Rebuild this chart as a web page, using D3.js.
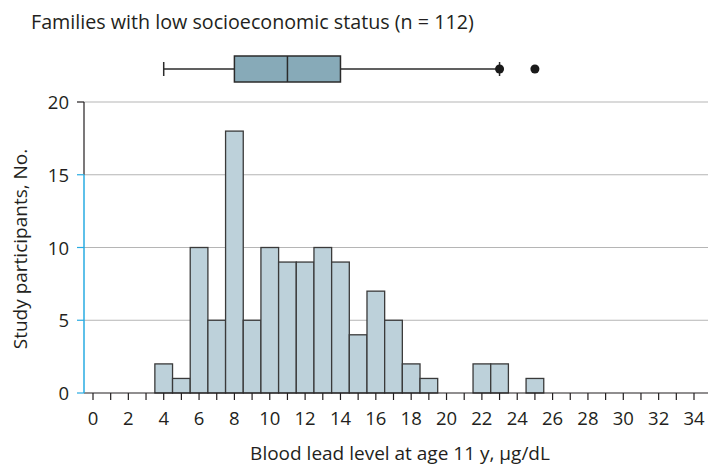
<!DOCTYPE html>
<html><head><meta charset="utf-8">
<script src="https://cdn.jsdelivr.net/npm/d3@7"></script>
<style>body{margin:0;background:#fff}svg{display:block}text{font-family:"Open Sans",sans-serif;fill:#231f20}</style>
</head><body>
<script>
const title = "Families with low socioeconomic status (n = 112)";
const xLabel = "Blood lead level at age 11 y, μg/dL";
const yLabel = "Study participants, No.";
const leadLevels = [4,5,6,7,8,9,10,11,12,13,14,15,16,17,18,19,22,23,25];
const counts     = [2,1,10,5,18,5,10,9,9,10,9,4,7,5,2,1,2,2,1];
const xTicks = d3.range(0, 35, 1);
const xTickLabels = d3.range(0, 35, 2);
const yTicks = [0,5,10,15,20];
const boxStats = {min:4, q1:8, median:11, q3:14, max:23};
const outliers = [25];

const W = 711, H = 466;
const svg = d3.select("body").append("svg").attr("width", W).attr("height", H);
const x = d3.scaleLinear().domain([0, 34]).range([93, 694]);
const y = d3.scaleLinear().domain([0, 20]).range([393, 102]);
const axisLeft = 84, axisRight = 708;

// gridlines
svg.append("g").selectAll("line").data(yTicks.filter(d => d > 0)).join("line")
  .attr("x1", axisLeft).attr("x2", axisRight)
  .attr("y1", d => y(d)).attr("y2", d => y(d))
  .attr("stroke", "#b5b5b5").attr("stroke-width", 1);

// bars
const bw = x(1) - x(0);
svg.append("g").selectAll("rect").data(leadLevels).join("rect")
  .attr("x", d => x(d - 0.5)).attr("width", bw)
  .attr("y", (d, i) => y(counts[i])).attr("height", (d, i) => y(0) - y(counts[i]))
  .attr("fill", "#bdd1da").attr("stroke", "#3a3a3a").attr("stroke-width", 1.3);

// x axis
const gx = svg.append("g");
gx.append("line").attr("x1", axisLeft).attr("x2", axisRight).attr("y1", y(0)).attr("y2", y(0))
  .attr("stroke", "#231f20").attr("stroke-width", 1.2);
gx.selectAll("line.t").data(xTicks).join("line").attr("class", "t")
  .attr("x1", d => x(d)).attr("x2", d => x(d)).attr("y1", y(0)).attr("y2", y(0) + 7)
  .attr("stroke", "#231f20").attr("stroke-width", 1.2);
gx.selectAll("text").data(xTickLabels).join("text")
  .attr("x", d => x(d)).attr("y", 425).attr("text-anchor", "middle")
  .attr("font-size", 18.5).text(d => d);

// y axis
const blue = "#29abe2";
svg.append("line").attr("x1", axisLeft).attr("x2", axisLeft).attr("y1", y(20)).attr("y2", y(15))
  .attr("stroke", "#231f20").attr("stroke-width", 1.2);
svg.append("line").attr("x1", axisLeft).attr("x2", axisLeft).attr("y1", y(15)).attr("y2", y(0))
  .attr("stroke", blue).attr("stroke-width", 1.5);
svg.append("g").selectAll("line").data(yTicks).join("line")
  .attr("x1", axisLeft - 7).attr("x2", axisLeft)
  .attr("y1", d => y(d)).attr("y2", d => y(d))
  .attr("stroke", d => d === 20 ? "#231f20" : blue).attr("stroke-width", 1.2);
svg.append("g").selectAll("text").data(yTicks).join("text")
  .attr("x", 69).attr("y", d => y(d) + 7).attr("text-anchor", "end")
  .attr("font-size", 18.5).text(d => d);

// labels
svg.append("text").attr("x", 31).attr("y", 29).attr("font-size", 19.7).text(title);
svg.append("text").attr("x", 400).attr("y", 460).attr("text-anchor", "middle").attr("font-size", 19).text(xLabel);
svg.append("text").attr("transform", "translate(27,249) rotate(-90)").attr("text-anchor", "middle")
  .attr("font-size", 19).text(yLabel);

// boxplot
const by = 69, bh = 26;
const gb = svg.append("g").attr("stroke", "#2b2b2b").attr("stroke-width", 1.5);
gb.append("line").attr("x1", x(boxStats.min)).attr("x2", x(boxStats.q1)).attr("y1", by).attr("y2", by);
gb.append("line").attr("x1", x(boxStats.q3)).attr("x2", x(boxStats.max)).attr("y1", by).attr("y2", by);
gb.append("line").attr("x1", x(boxStats.min)).attr("x2", x(boxStats.min)).attr("y1", by - 7).attr("y2", by + 7);
gb.append("line").attr("x1", x(boxStats.max)).attr("x2", x(boxStats.max)).attr("y1", by - 7).attr("y2", by + 7);
gb.append("rect").attr("x", x(boxStats.q1)).attr("width", x(boxStats.q3) - x(boxStats.q1))
  .attr("y", by - bh / 2).attr("height", bh).attr("fill", "#87aab8");
gb.append("line").attr("x1", x(boxStats.median)).attr("x2", x(boxStats.median)).attr("y1", by - bh / 2).attr("y2", by + bh / 2);
svg.append("circle").attr("cx", x(boxStats.max)).attr("cy", by).attr("r", 4.5).attr("fill", "#1a1a1a");
svg.append("g").selectAll("circle").data(outliers).join("circle")
  .attr("cx", d => x(d)).attr("cy", by).attr("r", 4.5).attr("fill", "#1a1a1a");
</script>
</body></html>
